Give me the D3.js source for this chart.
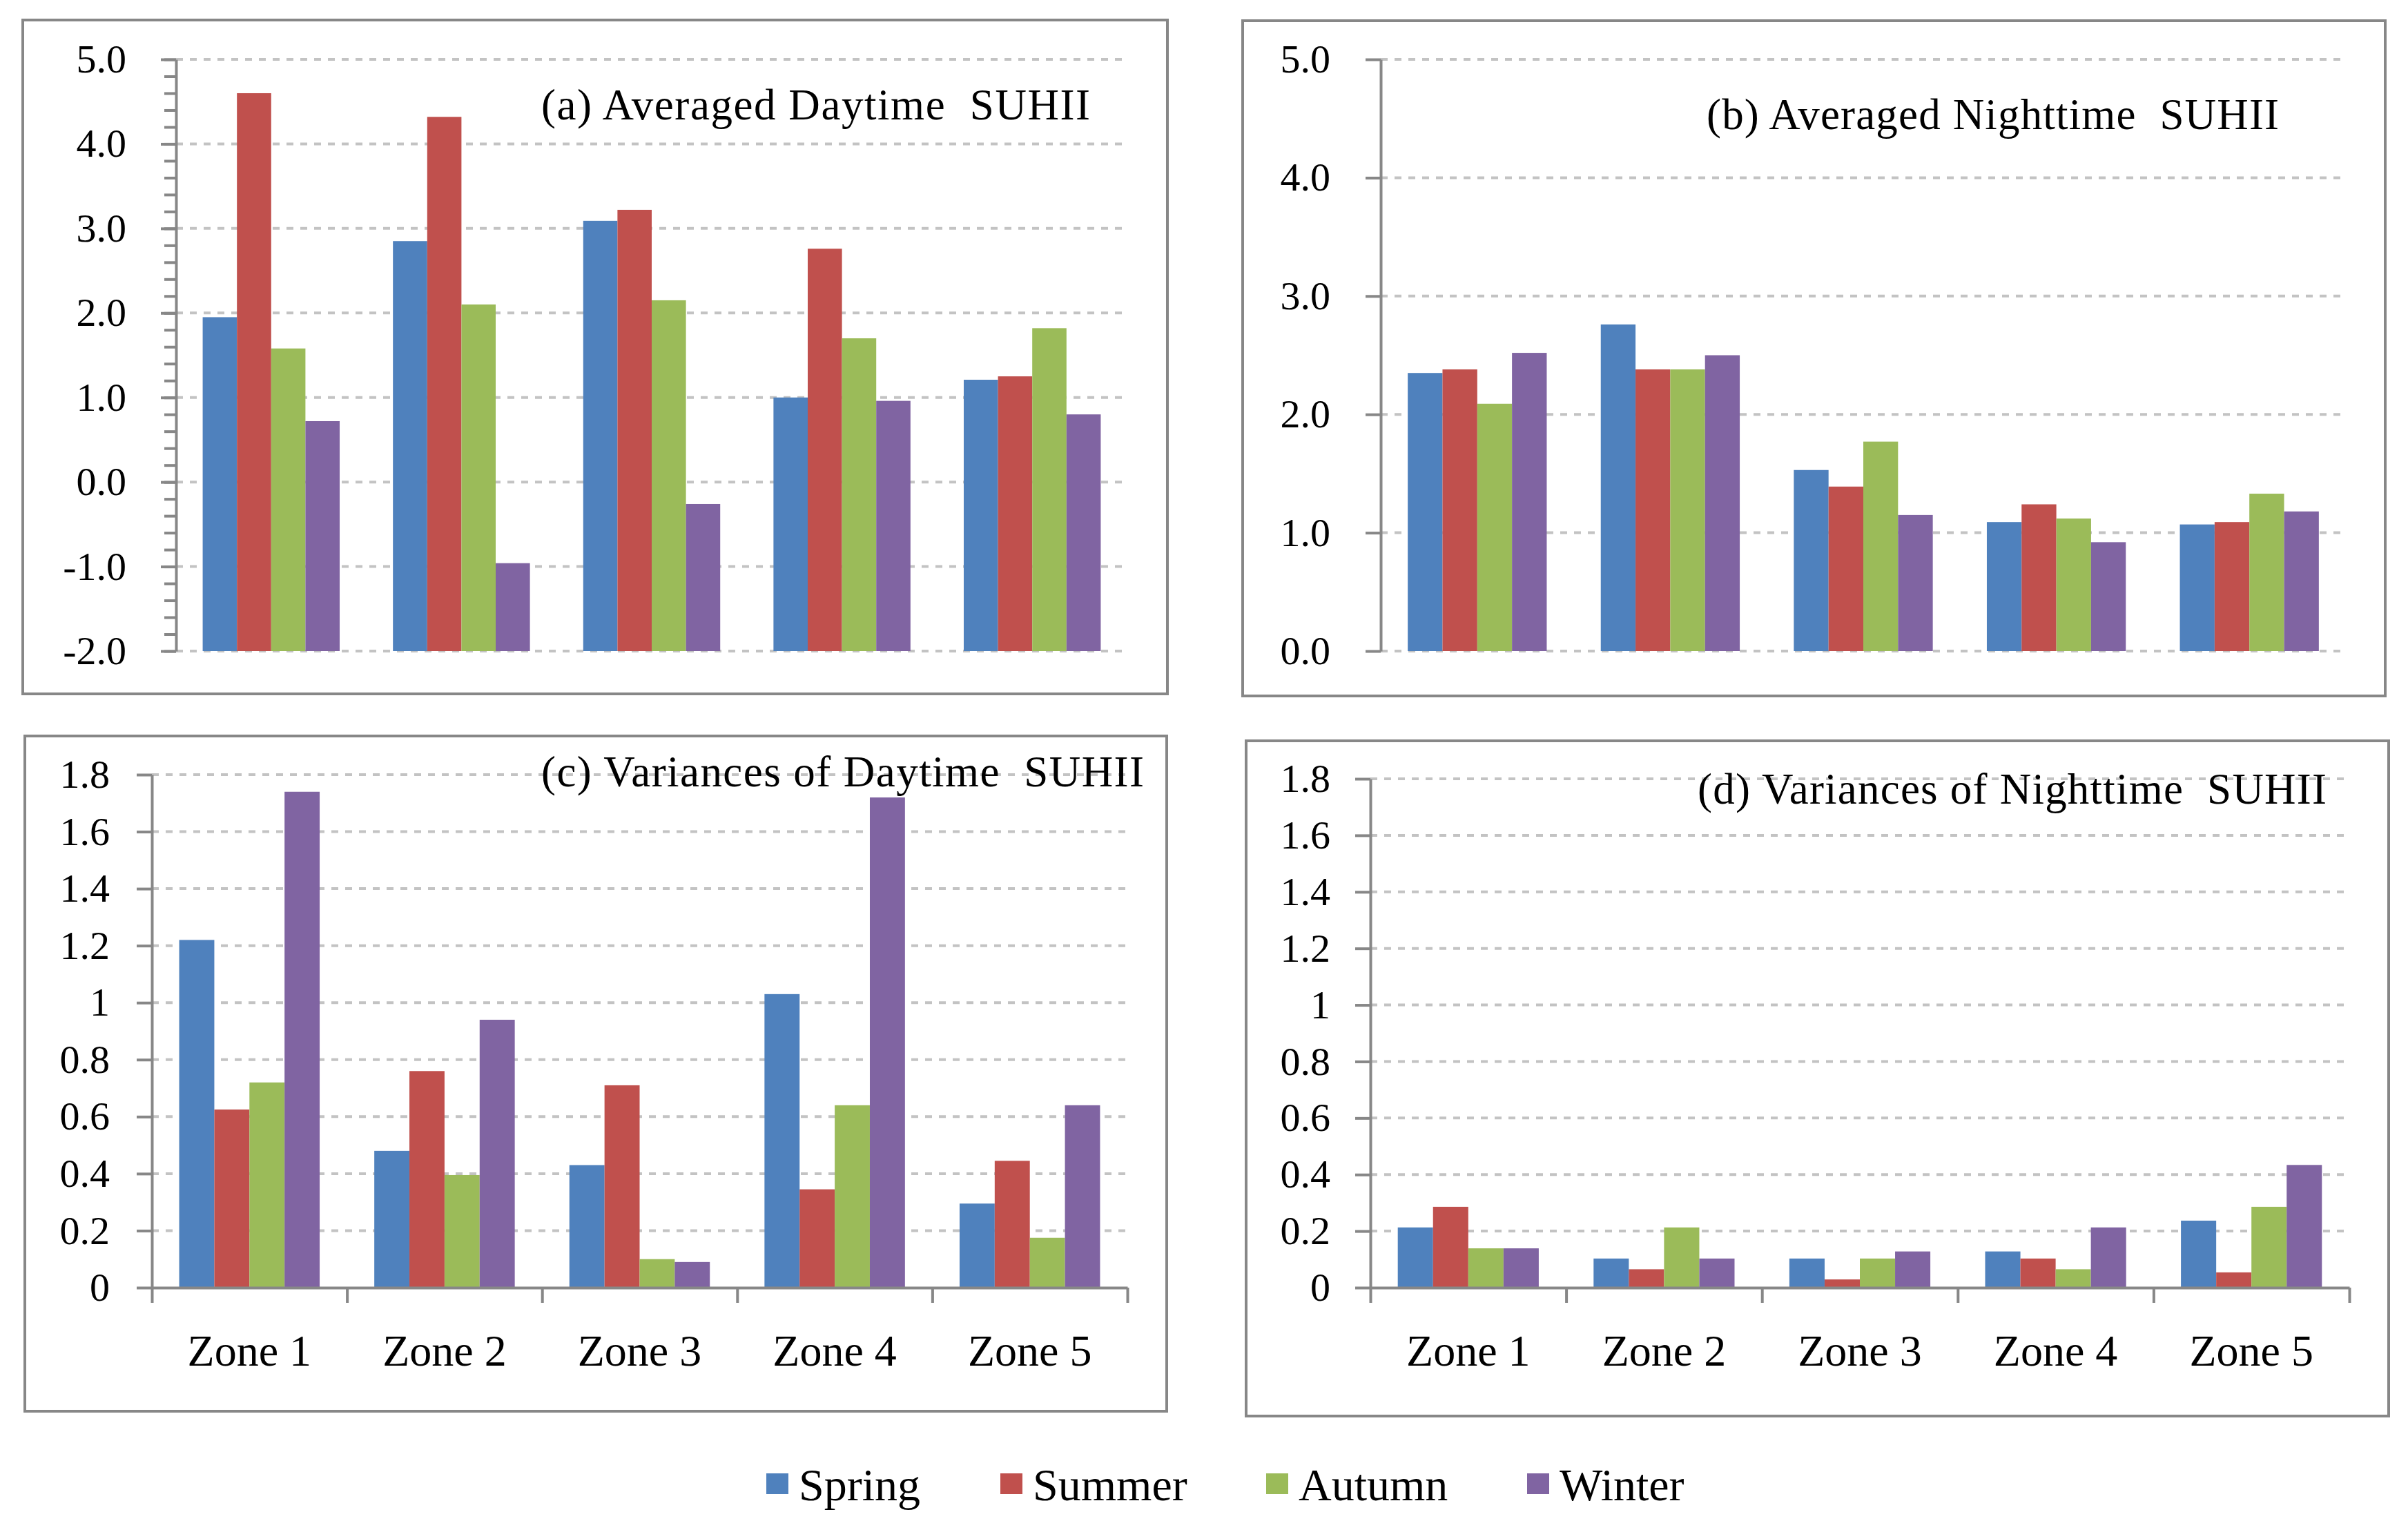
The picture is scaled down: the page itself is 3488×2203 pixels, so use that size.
<!DOCTYPE html>
<html>
<head>
<meta charset="utf-8">
<script src="https://cdn.jsdelivr.net/npm/d3@7"></script>
<style>
  body { margin: 0; background: #fff; }
  svg { display: block; font-family: "Liberation Serif", "Times New Roman", serif; }
</style>
</head>
<body>
<svg id="viz" width="3488" height="2203"></svg>
<script>
// Seasonal SUHII by zone, four panels (Excel style clustered bars)

const zones = ["Zone 1", "Zone 2", "Zone 3", "Zone 4", "Zone 5"];
const seasons = ["Spring", "Summer", "Autumn", "Winter"];

// values[zone][season]
const dayMean = [
  [1.95, 4.60, 1.58, 0.72],
  [2.85, 4.32, 2.10, -0.96],
  [3.09, 3.22, 2.15, -0.26],
  [1.00, 2.76, 1.70, 0.96],
  [1.21, 1.25, 1.82, 0.80]
];
const nightMean = [
  [2.35, 2.38, 2.09, 2.52],
  [2.76, 2.38, 2.38, 2.50],
  [1.53, 1.39, 1.77, 1.15],
  [1.09, 1.24, 1.12, 0.92],
  [1.07, 1.09, 1.33, 1.18]
];
const dayVar = [
  [1.22, 0.625, 0.72, 1.74],
  [0.48, 0.76, 0.395, 0.94],
  [0.43, 0.71, 0.10, 0.09],
  [1.03, 0.345, 0.64, 1.72],
  [0.295, 0.445, 0.175, 0.64]
];
const nightVar = [
  [0.213, 0.286, 0.139, 0.139],
  [0.103, 0.065, 0.213, 0.103],
  [0.103, 0.029, 0.103, 0.128],
  [0.128, 0.103, 0.065, 0.213],
  [0.237, 0.054, 0.286, 0.434]
];

const meanTicks = [-2, -1, 0, 1, 2, 3, 4, 5];
const varTicks = [0, 0.2, 0.4, 0.6, 0.8, 1, 1.2, 1.4, 1.6, 1.8];

const color = d3.scaleOrdinal()
  .domain(seasons)
  .range(["#4f81bd", "#c0504d", "#9bbb59", "#8064a2"]);

const axisGrey = "#878787";
const gridGrey = "#c3c3c3";
const serif = "Liberation Serif, Times New Roman, serif";

// Excel "General"-like labels with a plain hyphen for negatives
const fmtOne = d => d3.format(".1f")(d).replace("\u2212", "-");
const fmtGen = d => String(+d.toFixed(1));

const panels = [
  { data: dayMean, title: "(a) Averaged Daytime  SUHII",
    box: [33, 29, 1691, 1005], plot: [255, 86, 1633, 943],
    domain: [-2, 5], ticks: meanTicks, fmt: fmtOne, minor: true, xAxis: false,
    labelGap: 72, titleX: 784, titleY: 173, titleW: 795 },
  { data: nightMean, title: "(b) Averaged Nighttime  SUHII",
    box: [1800, 30, 3455, 1008], plot: [2000, 86, 3398, 943],
    domain: [0, 5], ticks: meanTicks.filter(d => d >= 0), fmt: fmtOne, minor: false, xAxis: false,
    labelGap: 73, titleX: 2472, titleY: 187, titleW: 829 },
  { data: dayVar, title: "(c) Variances of Daytime  SUHII",
    box: [36, 1066, 1690, 2044], plot: [220, 1122, 1633, 1865],
    domain: [0, 1.8], ticks: varTicks, fmt: fmtGen, minor: false, xAxis: true,
    labelGap: 61, titleX: 784, titleY: 1139, titleW: 873 },
  { data: nightVar, title: "(d) Variances of Nighttime  SUHII",
    box: [1805, 1073, 3460, 2051], plot: [1985, 1128, 3403, 1865],
    domain: [0, 1.8], ticks: varTicks, fmt: fmtGen, minor: false, xAxis: true,
    labelGap: 58, titleX: 2459, titleY: 1164, titleW: 911 }
];

const svg = d3.select("#viz");

panels.forEach(p => {
  const [bx0, by0, bx1, by1] = p.box;
  const [px0, py0, px1, py1] = p.plot;
  const g = svg.append("g");

  // outer frame
  g.append("rect")
    .attr("x", bx0).attr("y", by0)
    .attr("width", bx1 - bx0).attr("height", by1 - by0)
    .attr("fill", "#fff")
    .attr("stroke", axisGrey)
    .attr("stroke-width", 4);

  const y = d3.scaleLinear().domain(p.domain).range([py1, py0]);
  const x0 = d3.scaleBand().domain(zones).range([px0, px1]).paddingInner(0.28).paddingOuter(0.14);
  const x1 = d3.scaleBand().domain(seasons).range([0, x0.bandwidth()]);

  // dashed gridlines
  g.append("g")
    .selectAll("line")
    .data(p.ticks.filter(t => !(p.xAxis && t === p.domain[0])))
    .join("line")
    .attr("x1", px0).attr("x2", px1)
    .attr("y1", d => y(d)).attr("y2", d => y(d))
    .attr("stroke", gridGrey)
    .attr("stroke-width", 4)
    .attr("stroke-dasharray", "10,10");

  // bars
  g.append("g")
    .selectAll("g")
    .data(p.data)
    .join("g")
    .attr("transform", (d, i) => `translate(${x0(zones[i])},0)`)
    .selectAll("rect")
    .data(d => d.map((v, j) => ({ season: seasons[j], value: v })))
    .join("rect")
    .attr("x", d => x1(d.season))
    .attr("y", d => y(d.value))
    .attr("width", x1.bandwidth())
    .attr("height", d => y(p.domain[0]) - y(d.value))
    .attr("fill", d => color(d.season));

  // minor ticks
  if (p.minor) {
    const minorAxis = d3.axisLeft(y)
      .tickValues(d3.range(p.domain[0], p.domain[1] + 0.001, 0.2))
      .tickSize(17)
      .tickFormat("");
    const gm = g.append("g").attr("transform", `translate(${px0},0)`).call(minorAxis);
    gm.select(".domain").remove();
    gm.selectAll("line").attr("stroke", axisGrey).attr("stroke-width", 4);
  }

  // y axis
  const yAxis = d3.axisLeft(y)
    .tickValues(p.ticks)
    .tickSize(22)
    .tickSizeOuter(0)
    .tickPadding(p.labelGap - 22)
    .tickFormat(p.fmt);
  const gy = g.append("g").attr("transform", `translate(${px0},0)`).call(yAxis);
  gy.select(".domain").attr("stroke", axisGrey).attr("stroke-width", 4);
  gy.selectAll(".tick line").attr("stroke", axisGrey).attr("stroke-width", 4);
  gy.selectAll(".tick text")
    .attr("font-family", serif)
    .attr("font-size", 58)
    .attr("fill", "#000");

  // x axis for the variance panels
  if (p.xAxis) {
    const xEdge = d3.scaleLinear().domain([0, zones.length]).range([px0, px1]);
    const gx = g.append("g").attr("transform", `translate(0,${py1})`)
      .call(d3.axisBottom(xEdge).tickValues(d3.range(0, zones.length + 1)).tickSize(22).tickSizeOuter(0).tickFormat(""));
    gx.select(".domain").attr("stroke", axisGrey).attr("stroke-width", 4);
    gx.selectAll(".tick line").attr("stroke", axisGrey).attr("stroke-width", 4);

    const gl = g.append("g").attr("transform", `translate(0,${py1})`)
      .call(d3.axisBottom(x0).tickSize(0).tickPadding(0));
    gl.select(".domain").remove();
    gl.selectAll(".tick text")
      .attr("dy", null)
      .attr("y", 113)
      .attr("font-family", serif)
      .attr("font-size", 64)
      .attr("fill", "#000");
  }

  // panel title
  g.append("text")
    .attr("x", p.titleX)
    .attr("y", p.titleY)
    .attr("font-size", 63)
    .attr("fill", "#000")
    .attr("textLength", p.titleW)
    .attr("lengthAdjust", "spacing")
    .style("white-space", "pre")
    .text(p.title);
});

// legend
const legendX = [1110, 1449, 1834, 2212];
const legend = svg.append("g").attr("transform", "translate(0,2134)");
seasons.forEach((s, i) => {
  const item = legend.append("g").attr("transform", `translate(${legendX[i]},0)`);
  item.append("rect")
    .attr("width", 32).attr("height", 30)
    .attr("fill", color(s));
  item.append("text")
    .attr("x", 47).attr("y", 39)
    .attr("font-size", 66)
    .attr("fill", "#000")
    .text(s);
});
</script>
</body>
</html>
